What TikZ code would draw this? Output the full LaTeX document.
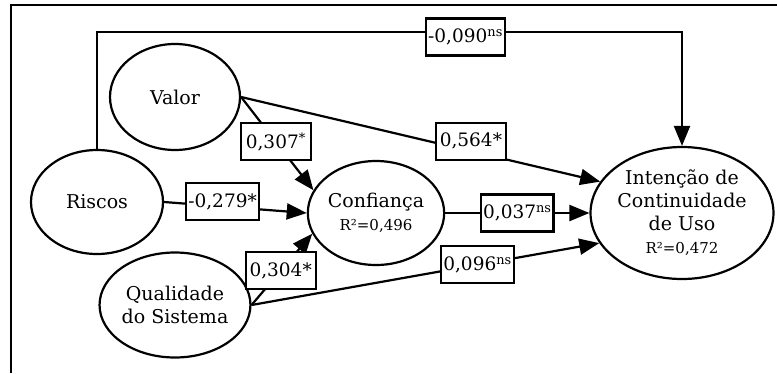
\documentclass[tikz,border=0pt]{standalone}
\usepackage{fontspec}
\setmainfont{DejaVu Serif}
\usetikzlibrary{shapes.geometric,arrows.meta}

\begin{document}
\begin{tikzpicture}[x=1pt,y=-1pt,
  construto/.style={draw, ellipse, line width=2.2pt, inner sep=0pt, align=center,
    font=\fontsize{19}{23}\selectfont},
  coef/.style={draw, fill=white, line width=2.2pt, inner sep=2pt,
    minimum width=70pt, minimum height=37pt, font=\fontsize{18.5}{20}\selectfont},
  caminho/.style={line width=2.2pt, -{Triangle[length=20pt,width=16pt]}}]
 \useasboundingbox (0,0) rectangle (777,373);

 % moldura
 \draw[line width=2.2pt] (11,373) -- (11,5) -- (777,5);

 % construtos
 \node[construto, minimum width=130pt, minimum height=106pt] (valor) at (175,97) {Valor};
 \node[construto, minimum width=132pt, minimum height=104pt] (riscos) at (97,202) {Riscos};
 \node[construto, minimum width=130pt, minimum height=105pt] (qualidade) at (175,305) {Qualidade\\do Sistema};
 \node[construto, minimum width=132pt, minimum height=104pt] (conf) at (376,213)
   {Confiança\\{\fontsize{15}{18}\selectfont R²=0,496}};
 \node[construto, minimum width=158pt, minimum height=132pt] (int) at (682,213)
   {Intenção de\\Continuidade\\de Uso\\{\fontsize{15}{18}\selectfont R²=0,472}};

 % caminhos com coeficientes
 \coordinate (topo) at (0,32);
 \draw[caminho] (riscos.north) -- (riscos.north |- topo) -- (int.north |- topo)
   node[coef, pos=0.63, yshift=-5pt] {-0,090\textsuperscript{ns}} -- (int.north);
 \draw[caminho] (valor.east) -- (conf.160) node[coef, pos=0.48] {0,307\textsuperscript{*}};
 \draw[caminho] (valor.east) -- (int.159) node[coef, pos=0.64, yshift=10pt] {0,564*};
 \draw[caminho] (riscos.east) -- (conf.west) node[coef, pos=0.41, yshift=5pt] {-0,279*};
 \draw[caminho] (qualidade.east) -- (conf.198) node[coef, pos=0.48] {0,304*};
 \draw[caminho] (qualidade.east) -- (int.200) node[coef, pos=0.65] {0,096\textsuperscript{ns}};
 \draw[caminho] (conf.east) -- (int.west) node[coef, pos=0.5] {0,037\textsuperscript{ns}};
\end{tikzpicture}
\end{document}
